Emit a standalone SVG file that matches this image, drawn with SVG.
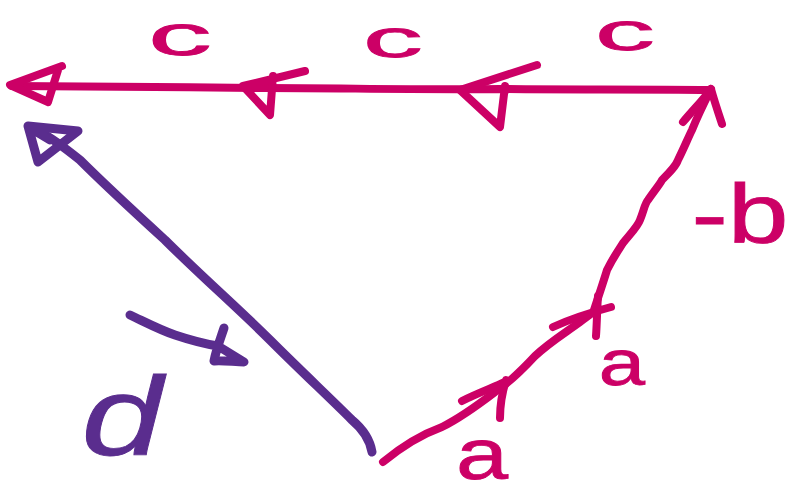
<svg xmlns="http://www.w3.org/2000/svg" width="789" height="496" viewBox="0 0 789 496">
<style>
.pk{fill:none;stroke:#cc0066;stroke-width:8;stroke-linecap:round;stroke-linejoin:round}
.pu{fill:none;stroke:#5a2d8e;stroke-width:9;stroke-linecap:round;stroke-linejoin:round}
.tp{fill:#cc0066;stroke:#cc0066;stroke-width:0.8;font-family:"Liberation Sans",Arial,sans-serif;text-anchor:middle}
.tu{fill:#5a2d8e;stroke:#5a2d8e;stroke-width:0.8;font-family:"Liberation Sans",Arial,sans-serif;text-anchor:middle;font-style:italic}
</style>
<rect width="789" height="496" fill="#ffffff"/>
<g id="connectors">
  <path class="pk" d="M710,90 C640,89 560,90 500,89 C420,90 340,88 265,88 C180,87 90,86 12,86"/>
  <path class="pk" d="M62,66 L10,85 L48,102 L58,70"/>
  <path class="pk" d="M305,71 L243,86 L270,115 L273,76"/>
  <path class="pk" d="M537,65 L460,90 L500,127 L505,86"/>
  <path class="pk" d="M594,310 C600,292 604,280 607,270 C614,256 620,248 623,243 C632,232 638,226 640,220 C644,210 645,203 648,200 C655,190 660,184 662,180 C670,172 676,166 678,160 C684,148 688,138 692,130 C698,115 703,105 711,89"/>
  <path class="pk" d="M683,122 C693,110 703,100 711,89 C714,100 718,112 722,124"/>
  <path class="pk" d="M383,462 C400,448 420,435 442,427 C460,418 478,405 495,392 C510,382 522,370 535,356 C550,342 565,333 580,322 C588,316 594,312 598,308"/>
  <path class="pk" d="M462,401 C478,393 492,388 505,382 M500,418 C500,405 502,393 506,380"/>
  <path class="pk" d="M553,327 C568,320 585,314 611,307 M596,336 C597,322 597,310 598,296"/>
  <path class="pu" d="M372,452 C370,440 364,430 352,420 C330,398 300,370 270,340 C240,310 200,275 165,240 C130,208 100,180 80,160 C65,148 52,138 40,132"/>
  <path class="pu" d="M78,131 L28,126 L38,162 Z M30,128 L50,140" fill="#5a2d8e"/>
  <path class="pu" d="M130,315 C145,322 160,330 175,335 C190,340 205,344 218,346 L244,362 C235,362 222,360 214,361 C216,350 220,340 224,328"/>
</g>
<g id="labels">
  <text class="tp" font-size="58" transform="translate(180,55) scale(2.2,1)">c</text>
  <text class="tp" font-size="52" transform="translate(393,57) scale(2.3,1)">c</text>
  <text class="tp" font-size="52" transform="translate(625,50) scale(2.3,1)">c</text>
  <text class="tp" font-size="84" transform="translate(740,243) scale(1.3,1)">-b</text>
  <text class="tp" font-size="64" transform="translate(622,385) scale(1.3,1)">a</text>
  <text class="tp" font-size="72" transform="translate(482,479) scale(1.3,1)">a</text>
  <text class="tu" font-size="112" transform="translate(122,455) scale(1.3,1)">d</text>
</g>
</svg>
